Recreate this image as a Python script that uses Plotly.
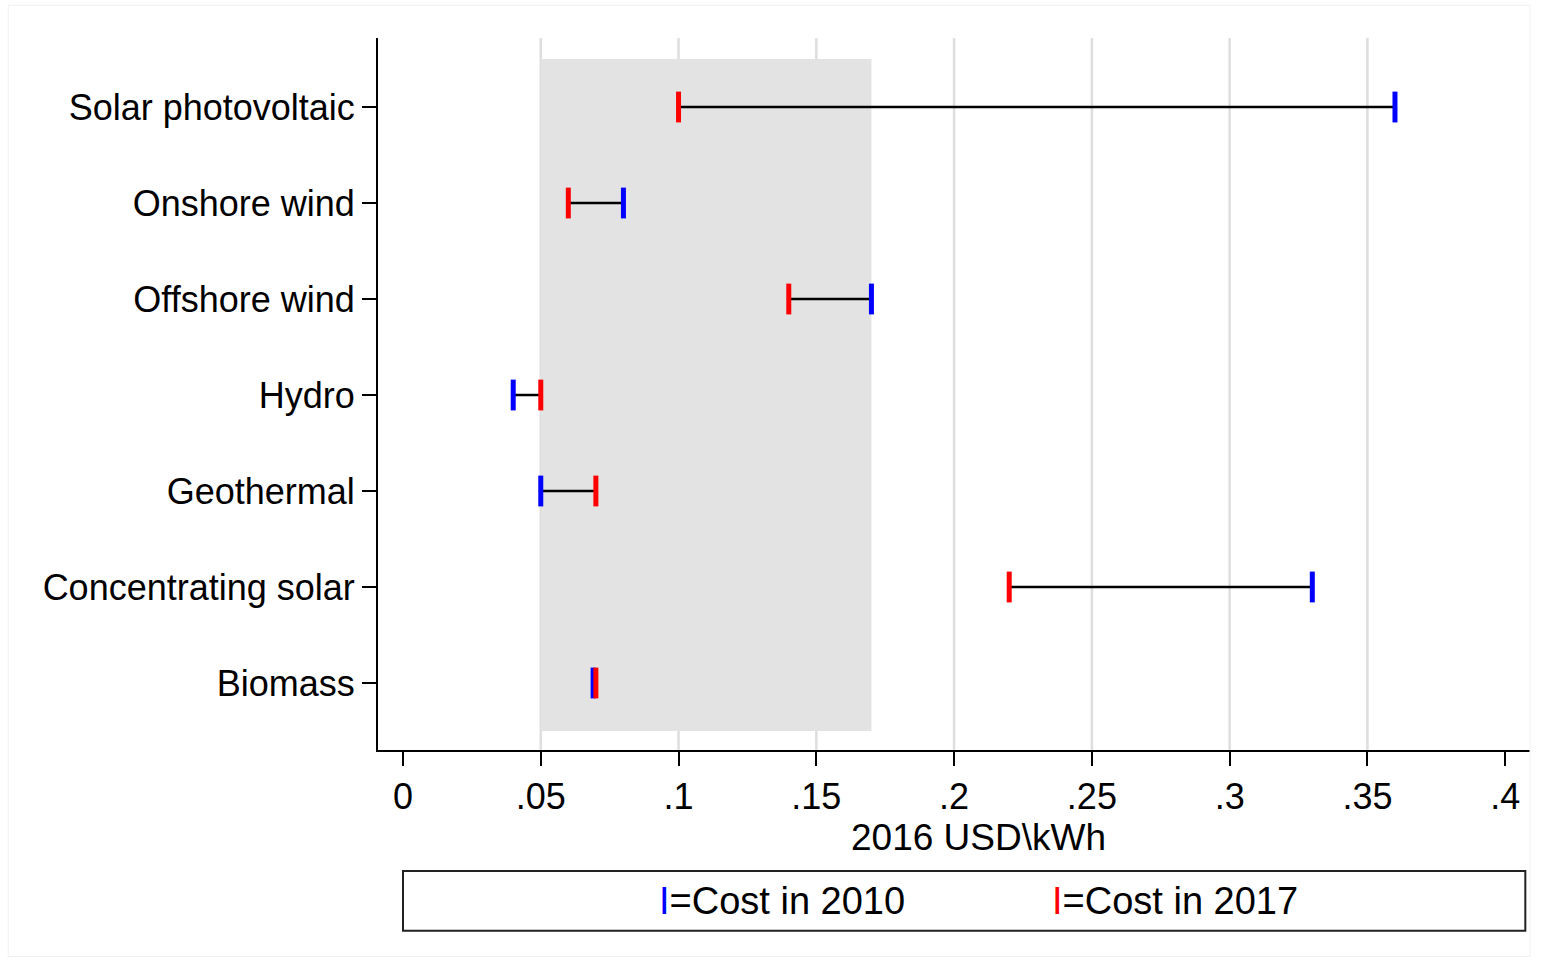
import plotly.graph_objects as go

categories = ["Solar photovoltaic", "Onshore wind", "Offshore wind", "Hydro",
              "Geothermal", "Concentrating solar", "Biomass"]
cost_2010 = [0.36, 0.08, 0.17, 0.04, 0.05, 0.33, 0.069]
cost_2017 = [0.10, 0.06, 0.14, 0.05, 0.07, 0.22, 0.070]
x_ticks = [0, 0.05, 0.1, 0.15, 0.2, 0.25, 0.3, 0.35, 0.4]
x_tick_labels = ["0", ".05", ".1", ".15", ".2", ".25", ".3", ".35", ".4"]
grid_vals = [0.05, 0.1, 0.15, 0.2, 0.25, 0.3, 0.35]
band = (0.05, 0.17)

n = len(categories)
ypos = [n - i for i in range(n)]

FONT = "Liberation Sans, Arial, sans-serif"

fig = go.Figure()

# connecting lines
for y, a, b in zip(ypos, cost_2010, cost_2017):
    fig.add_trace(go.Scatter(x=[a, b], y=[y, y], mode="lines",
                             line=dict(color="black", width=2.5),
                             showlegend=False, hoverinfo="skip"))

fig.add_trace(go.Scatter(x=cost_2010, y=ypos, mode="markers", name="Cost in 2010",
                         marker=dict(symbol="line-ns", size=22,
                                     line=dict(color="#0000ff", width=5)),
                         showlegend=False))
fig.add_trace(go.Scatter(x=cost_2017, y=ypos, mode="markers", name="Cost in 2017",
                         marker=dict(symbol="line-ns", size=22,
                                     line=dict(color="#ff0000", width=5)),
                         showlegend=False))

shapes = []
# shaded band
shapes.append(dict(type="rect", xref="x", yref="y", x0=band[0], x1=band[1],
                   y0=0.5, y1=n + 0.5, fillcolor="#e3e3e3", line=dict(width=0),
                   layer="below"))
for g in grid_vals:
    shapes.append(dict(type="line", xref="x", yref="paper", x0=g, x1=g, y0=0, y1=1,
                       line=dict(color="#dedede", width=2.5), layer="below"))
# legend box
shapes.append(dict(type="rect", xref="x", yref="paper", x0=0, x1=0.4073,
                   y0=-0.254, y1=-0.17, line=dict(color="#222222", width=2),
                   fillcolor="white"))
# faint outer frame
shapes.append(dict(type="rect", xref="paper", yref="paper",
                   x0=-0.321, x1=1.0, y0=-0.29, y1=1.046,
                   line=dict(color="#f0f0f0", width=1)))

annotations = [
    dict(text="2016 USD\\kWh", xref="x", yref="paper", x=0.2087, y=-0.123,
         showarrow=False, font=dict(family=FONT, size=37, color="black"),
         xanchor="center", yanchor="middle"),
    dict(text="<span style='color:#0000ff'>I</span>=Cost in 2010", xref="x", yref="paper",
         x=(657 - 403) / 2755, y=-0.212, showarrow=False, xanchor="left", yanchor="middle",
         font=dict(family="Liberation Sans Narrow, " + FONT, size=38, color="black")),
    dict(text="<span style='color:#ff0000'>I</span>=Cost in 2017", xref="x", yref="paper",
         x=(1050 - 403) / 2755, y=-0.212, showarrow=False, xanchor="left", yanchor="middle",
         font=dict(family="Liberation Sans Narrow, " + FONT, size=38, color="black")),
]

fig.update_layout(
    width=1554, height=962,
    margin=dict(l=378, r=24, t=38, b=212),
    paper_bgcolor="white", plot_bgcolor="white",
    shapes=shapes, annotations=annotations,
    font=dict(family=FONT, color="black"),
)
fig.update_xaxes(range=[-0.00907, 0.409], tickvals=x_ticks, ticktext=x_tick_labels,
                 showgrid=False, zeroline=False, showline=True, linecolor="black",
                 linewidth=2, ticks="outside", ticklen=14, tickwidth=2, tickcolor="black",
                 tickfont=dict(family=FONT, size=36, color="black"))
fig.update_yaxes(range=[0.302, 7.719], tickvals=ypos, ticktext=categories,
                 showgrid=False, zeroline=False, showline=True, linecolor="black",
                 linewidth=2, ticks="outside", ticklen=14, tickwidth=2, tickcolor="black",
                 tickfont=dict(family=FONT, size=36, color="black"))

fig.write_html("out.html")
